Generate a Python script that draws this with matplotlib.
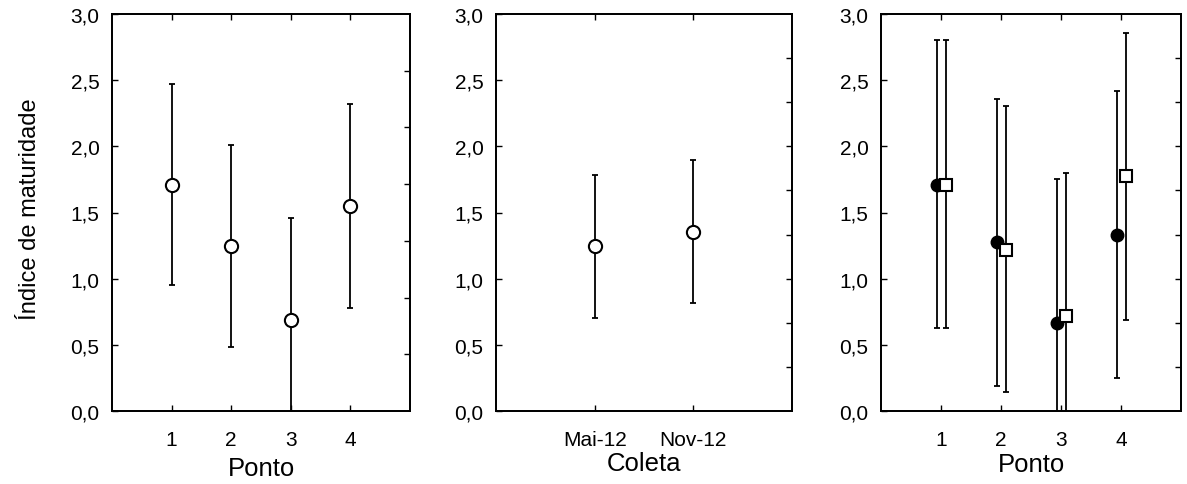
import numpy as np
import matplotlib
matplotlib.use("Agg")
import matplotlib.pyplot as plt

plt.rcParams['font.family'] = ['Liberation Sans', 'DejaVu Sans']

# painel 1 - por ponto
pontos = ['1', '2', '3', '4']
media_ponto = [1.71, 1.25, 0.69, 1.55]
inf_ponto = [0.95, 0.48, -0.08, 0.78]
sup_ponto = [2.47, 2.01, 1.46, 2.32]

# painel 2 - por coleta
coletas = ['Mai-12', 'Nov-12']
media_coleta = [1.245, 1.355]
inf_coleta = [0.705, 0.815]
sup_coleta = [1.785, 1.90]

# painel 3 - ponto x coleta
media_mai = [1.71, 1.275, 0.665, 1.33]
inf_mai = [0.63, 0.19, -0.42, 0.25]
sup_mai = [2.80, 2.36, 1.75, 2.415]
media_nov = [1.71, 1.22, 0.72, 1.775]
inf_nov = [0.63, 0.14, -0.36, 0.69]
sup_nov = [2.80, 2.305, 1.80, 2.86]

yticks = [0.0, 0.5, 1.0, 1.5, 2.0, 2.5, 3.0]
ylabels = ['0,0', '0,5', '1,0', '1,5', '2,0', '2,5', '3,0']


def errbar(ax, x, m, lo, hi, **kw):
    m = np.array(m)
    yerr = [m - np.array(lo), np.array(hi) - m]
    ax.errorbar(x, m, yerr=yerr, fmt='none', ecolor='black',
                elinewidth=1.3, capsize=2.2, capthick=1.3, zorder=2)
    ax.plot(x, m, linestyle='none', zorder=3, **kw)


def style(ax, xt, xtl, xmax, nright):
    ax.set_xlim(0, xmax)
    ax.set_ylim(0, 3)
    ax.set_xticks(xt)
    ax.set_xticklabels(xtl, fontsize=15)
    ax.set_yticks(yticks)
    ax.set_yticklabels(ylabels, fontsize=15)
    ax.tick_params(axis='x', direction='in', length=4, width=1, pad=13.5, top=True)
    ax.tick_params(axis='y', direction='in', length=4, width=1, pad=9)
    for s in ax.spines.values():
        s.set_linewidth(1.3)
    tw = ax.twinx()
    tw.set_ylim(0, 3)
    tw.set_yticks(np.linspace(0, 3, nright + 1)[1:-1])
    tw.tick_params(axis='y', direction='in', length=4, width=1, labelright=False)
    for s in tw.spines.values():
        s.set_linewidth(1.3)


fig = plt.figure(figsize=(11.87, 4.85), dpi=100)
h = 397 / 485
b = 1 - 412 / 485
ax1 = fig.add_axes([112 / 1187, b, 298 / 1187, h])
ax2 = fig.add_axes([496 / 1187, b, 296 / 1187, h])
ax3 = fig.add_axes([881 / 1187, b, 300 / 1187, h])

x1 = np.arange(1, len(pontos) + 1)
errbar(ax1, x1, media_ponto, inf_ponto, sup_ponto,
       marker='o', ms=9.5, mfc='white', mec='black', mew=1.5)
style(ax1, x1, pontos, 5, 7)
ax1.set_xlabel('Ponto', fontsize=18.5)
ax1.xaxis.set_label_coords(0.5, -0.113)
ax1.set_ylabel('Índice de maturidade', fontsize=17)
ax1.yaxis.set_label_coords(-0.237, 0.51)

x2 = np.arange(1, len(coletas) + 1)
errbar(ax2, x2, media_coleta, inf_coleta, sup_coleta,
       marker='o', ms=9.5, mfc='white', mec='black', mew=1.5)
style(ax2, x2, coletas, 3, 9)
ax2.set_xlabel('Coleta', fontsize=18.5)
ax2.xaxis.set_label_coords(0.5, -0.1)

d = 0.075
errbar(ax3, x1 - d, media_mai, inf_mai, sup_mai,
       marker='o', ms=9, mfc='black', mec='black')
errbar(ax3, x1 + d, media_nov, inf_nov, sup_nov,
       marker='s', ms=8.5, mfc='white', mec='black', mew=1.5)
style(ax3, x1, pontos, 5, 9)
ax3.set_xlabel('Ponto', fontsize=18.5)
ax3.xaxis.set_label_coords(0.5, -0.103)

fig.savefig('out.png', dpi=100)
